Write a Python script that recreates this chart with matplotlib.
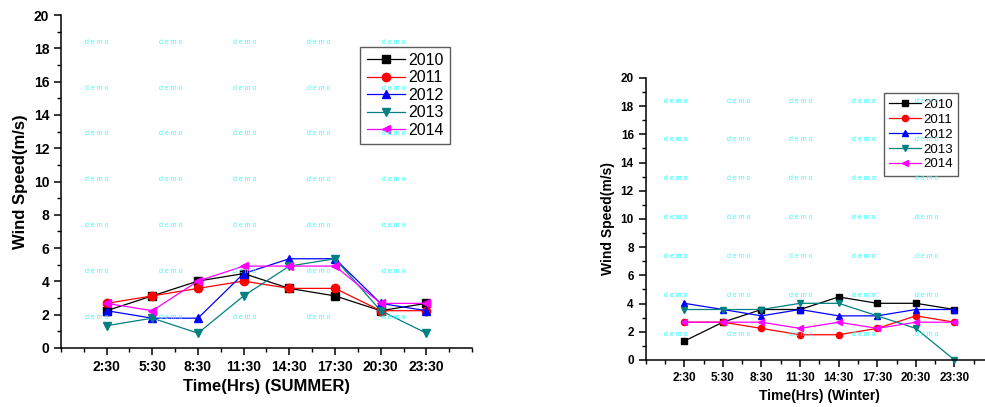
import numpy as np
import matplotlib.pyplot as plt
from matplotlib.ticker import MultipleLocator

times = ['2:30', '5:30', '8:30', '11:30', '14:30', '17:30', '20:30', '23:30']
years = ['2010', '2011', '2012', '2013', '2014']

summer_2010 = [2.24, 3.13, 4.02, 4.47, 3.58, 3.13, 2.24, 2.68]
summer_2011 = [2.68, 3.13, 3.58, 4.02, 3.58, 3.58, 2.24, 2.24]
summer_2012 = [2.24, 1.79, 1.79, 4.47, 5.36, 5.36, 2.68, 2.24]
summer_2013 = [1.34, 1.79, 0.89, 3.13, 4.92, 5.36, 2.24, 0.89]
summer_2014 = [2.68, 2.24, 4.02, 4.92, 4.92, 4.92, 2.68, 2.68]

winter_2010 = [1.34, 2.68, 3.58, 3.58, 4.47, 4.02, 4.02, 3.58]
winter_2011 = [2.68, 2.68, 2.24, 1.79, 1.79, 2.24, 3.13, 2.68]
winter_2012 = [4.02, 3.58, 3.13, 3.58, 3.13, 3.13, 3.58, 3.58]
winter_2013 = [3.58, 3.58, 3.58, 4.02, 4.02, 3.13, 2.24, 0.0]
winter_2014 = [2.68, 2.68, 2.68, 2.24, 2.68, 2.24, 2.68, 2.68]

summer = [summer_2010, summer_2011, summer_2012, summer_2013, summer_2014]
winter = [winter_2010, winter_2011, winter_2012, winter_2013, winter_2014]

colors = ['black', 'red', 'blue', '#008080', 'magenta']
markers = ['s', 'o', '^', 'v', '<']

# watermark grid
demo_x = [0.78, 2.40, 4.03, 5.65, 7.28]
demo_y = [1.84, 4.6, 7.36, 10.1, 12.86, 15.6, 18.36]

plt.rcParams['font.family'] = ['Liberation Sans', 'DejaVu Sans']

fig = plt.figure(figsize=(9.85, 4.07), dpi=100)
ax1 = fig.add_axes([0.0619, 0.145, 0.4173, 0.818])
ax2 = fig.add_axes([0.6555, 0.1155, 0.3527, 0.693])


def draw(ax, data, xlabel, tfs, lfs, legfs, ms, legloc, lsp):
    x = np.arange(1, len(times) + 1)
    for vals, c, m, yr in zip(data, colors, markers, years):
        ax.plot(x, vals, color=c, marker=m, markersize=ms, lw=0.9,
                label=yr, clip_on=False)
    ax.set_xlim(0, 9)
    ax.set_ylim(0, 20)
    ax.set_xticks(x)
    ax.set_xticklabels(times)
    ax.xaxis.set_minor_locator(MultipleLocator(0.5))
    ax.yaxis.set_major_locator(MultipleLocator(2))
    ax.yaxis.set_minor_locator(MultipleLocator(1))
    for s in ['top', 'right']:
        ax.spines[s].set_visible(False)
    for s in ['left', 'bottom']:
        ax.spines[s].set_linewidth(1.1)
    ax.tick_params(which='major', direction='out', length=5, width=1.1,
                   labelsize=tfs)
    ax.tick_params(which='minor', direction='out', length=3, width=1.0)
    for lab in ax.get_xticklabels() + ax.get_yticklabels():
        lab.set_fontweight('bold')
    ax.set_xlabel(xlabel, fontsize=lfs, fontweight='bold')
    ax.set_ylabel('Wind Speed(m/s)', fontsize=lfs, fontweight='bold')
    leg = ax.legend(loc='upper left', bbox_to_anchor=legloc, fontsize=legfs,
                    frameon=True, fancybox=False, handlelength=2.4,
                    borderpad=0.4, labelspacing=lsp, handletextpad=0.2,
                    borderaxespad=0)
    leg.get_frame().set_edgecolor('#333333')
    leg.get_frame().set_linewidth(1.0)
    for dx in demo_x:
        for dy in demo_y:
            ax.text(dx, dy, 'd e m o', color='#33ffff', fontsize=5,
                    ha='center', va='center', zorder=10)


draw(ax1, summer, 'Time(Hrs) (SUMMER)', 10, 12, 11.5, 6, (0.728, 0.905), 0.15)
draw(ax2, winter, 'Time(Hrs) (Winter)', 8.5, 10, 9.5, 4.5, (0.685, 0.945), 0.2)

fig.savefig('out.png', dpi=100)
